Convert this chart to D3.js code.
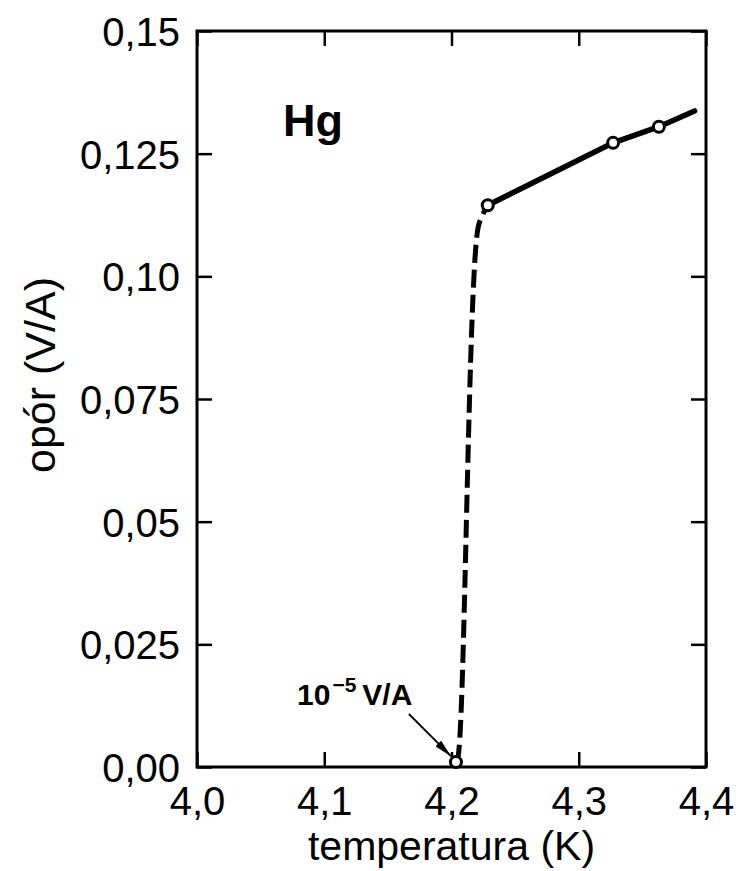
<!DOCTYPE html>
<html>
<head>
<meta charset="utf-8">
<script src="https://cdn.jsdelivr.net/npm/d3@7"></script>
<style>
  body { margin: 0; background: #fff; }
  svg { display: block; font-family: "Liberation Sans", Arial, sans-serif; }
</style>
</head>
<body>
<div id="chart"></div>
<script>
// temperature (K) / resistance (V/A)
const xTicks = [4.0, 4.1, 4.2, 4.3, 4.4];
const xTickLabels = ["4,0", "4,1", "4,2", "4,3", "4,4"];
const yTicks = [0, 0.025, 0.05, 0.075, 0.10, 0.125, 0.15];
const yTickLabels = ["0,00", "0,025", "0,05", "0,075", "0,10", "0,125", "0,15"];

const measT = [4.2035, 4.2285, 4.327, 4.363];
const measR = [0.001, 0.1145, 0.1272, 0.1305];

// solid fit above Tc
const solidT = [4.2285, 4.327, 4.363, 4.391];
const solidR = [0.1145, 0.1272, 0.1305, 0.1337];

// dashed drop at Tc
const dropT = [4.2035, 4.2051, 4.2208, 4.2248, 4.2285];
const dropR = [0.001, 0.002, 0.1098, 0.1127, 0.1145];

// arrow for the 10^-5 V/A note
const arrowT = [4.1665, 4.1996];
const arrowR = [0.0108, 0.0022];

const width = 738, height = 871;
const margin = { top: 31, right: 32, bottom: 104, left: 197 };

const svg = d3.select("#chart").append("svg")
    .attr("width", width)
    .attr("height", height);

const x = d3.scaleLinear()
    .domain([4.0, 4.4])
    .range([margin.left, width - margin.right]);

const y = d3.scaleLinear()
    .domain([0, 0.15])
    .range([height - margin.bottom, margin.top]);

const fontSize = 40;

// axes with inward ticks
const gx = svg.append("g")
    .attr("transform", `translate(0,${y(0)})`)
    .call(d3.axisBottom(x).tickValues(xTicks)
        .tickFormat((d, i) => xTickLabels[i])
        .tickSizeInner(-15).tickSizeOuter(0).tickPadding(20));

const gy = svg.append("g")
    .attr("transform", `translate(${x(4.0)},0)`)
    .call(d3.axisLeft(y).tickValues(yTicks)
        .tickFormat((d, i) => yTickLabels[i])
        .tickSizeInner(-15).tickSizeOuter(0).tickPadding(17));

const gt = svg.append("g")
    .attr("transform", `translate(0,${y(0.15)})`)
    .call(d3.axisTop(x).tickValues(xTicks).tickFormat("")
        .tickSizeInner(-15).tickSizeOuter(0));

const gr = svg.append("g")
    .attr("transform", `translate(${x(4.4)},0)`)
    .call(d3.axisRight(y).tickValues(yTicks).tickFormat("")
        .tickSizeInner(-15).tickSizeOuter(0));

[gx, gy, gt, gr].forEach(g => {
    g.select(".domain").remove();
    g.selectAll(".tick line").attr("stroke", "#000").attr("stroke-width", 2.5);
    g.selectAll("text")
        .attr("fill", "#000")
        .style("font-size", fontSize + "px");
});
gy.selectAll("text").attr("dy", "0.36em");

// frame
svg.append("rect")
    .attr("x", x(4.0))
    .attr("y", y(0.15))
    .attr("width", x(4.4) - x(4.0))
    .attr("height", y(0) - y(0.15))
    .attr("fill", "none")
    .attr("stroke", "#000")
    .attr("stroke-width", 3);

// axis titles
svg.append("text")
    .attr("x", (x(4.0) + x(4.4)) / 2)
    .attr("y", 860)
    .attr("text-anchor", "middle")
    .style("font-size", "41px")
    .text("temperatura (K)");

svg.append("text")
    .attr("transform", `translate(55,${(y(0) + y(0.15)) / 2 - 24}) rotate(-90)`)
    .attr("text-anchor", "middle")
    .style("font-size", "43px")
    .text("opór (V/A)");

// Hg label
svg.append("text")
    .attr("x", x(4.0675))
    .attr("y", y(0.1285))
    .style("font-size", "45px")
    .style("font-weight", "bold")
    .text("Hg");

const line = d3.line().x(d => x(d[0])).y(d => y(d[1]));

// dashed transition
svg.append("path")
    .datum(dropT.map((t, i) => [t, dropR[i]]))
    .attr("d", line.curve(d3.curveCatmullRom))
    .attr("fill", "none")
    .attr("stroke", "#000")
    .attr("stroke-width", 5)
    .attr("stroke-dasharray", "18,7");

// solid line
svg.append("path")
    .datum(solidT.map((t, i) => [t, solidR[i]]))
    .attr("d", d3.line().x(d => x(d[0])).y(d => y(d[1])))
    .attr("fill", "none")
    .attr("stroke", "#000")
    .attr("stroke-width", 5.5)
    .attr("stroke-linecap", "round");

// measured points
svg.selectAll("circle.pt")
    .data(measT.map((t, i) => [t, measR[i]]))
    .enter()
    .append("circle")
    .attr("class", "pt")
    .attr("cx", d => x(d[0]))
    .attr("cy", d => y(d[1]))
    .attr("r", 5.5)
    .attr("fill", "#fff")
    .attr("stroke", "#000")
    .attr("stroke-width", 3);

// annotation
svg.append("defs").append("marker")
    .attr("id", "head")
    .attr("viewBox", "0 0 18 8")
    .attr("refX", 18).attr("refY", 4)
    .attr("markerWidth", 18).attr("markerHeight", 8)
    .attr("markerUnits", "userSpaceOnUse")
    .attr("orient", "auto")
    .append("path")
    .attr("d", "M0,0 L18,4 L0,8 Z")
    .attr("fill", "#000");

svg.append("line")
    .attr("x1", x(arrowT[0])).attr("y1", y(arrowR[0]))
    .attr("x2", x(arrowT[1])).attr("y2", y(arrowR[1]))
    .attr("stroke", "#000")
    .attr("stroke-width", 1.8)
    .attr("marker-end", "url(#head)");

const note = svg.append("text")
    .attr("x", x(4.0786))
    .attr("y", y(0.0126))
    .style("font-family", "'Liberation Sans Narrow', 'Liberation Sans', Arial, sans-serif")
    .style("font-size", "30px")
    .style("font-weight", "bold");
note.append("tspan").text("10");
note.append("tspan").attr("dx", 2).attr("dy", -13).style("font-size", "21px").text("−5");
note.append("tspan").attr("dx", 6).attr("dy", 13).text("V/A");
</script>
</body>
</html>
